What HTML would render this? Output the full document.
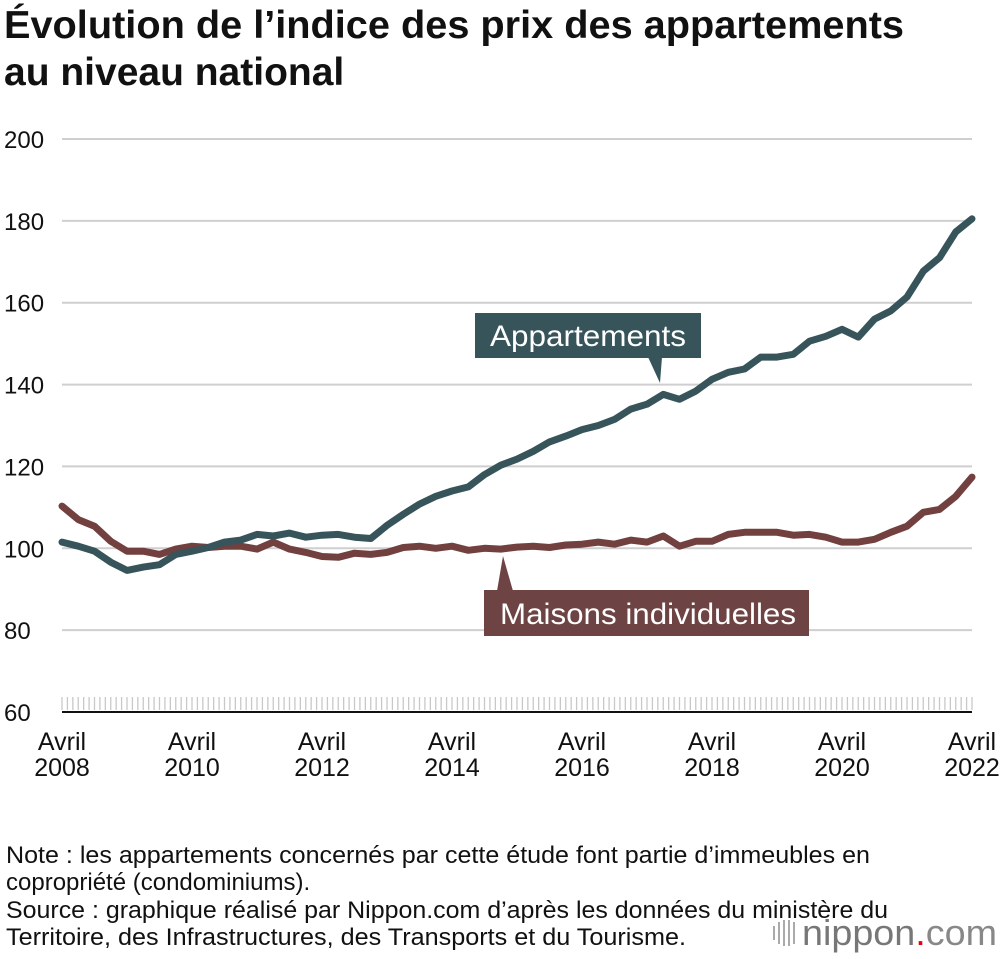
<!DOCTYPE html>
<html><head><meta charset="utf-8"><style>
body{margin:0;background:#fff;font-family:"Liberation Sans",Arial,sans-serif;}
svg text{font-family:"Liberation Sans",Arial,sans-serif;}
</style></head><body>
<svg width="1000" height="954" viewBox="0 0 1000 954">
<text x="4" y="38" font-size="39" font-weight="bold" fill="#111" textLength="900" lengthAdjust="spacingAndGlyphs">Évolution de l’indice des prix des appartements</text>
<text x="4" y="85" font-size="39" font-weight="bold" fill="#111">au niveau national</text>
<g id="grid"></g>
<g id="ticks"></g>
<g id="series"></g>
<g>
<rect x="475" y="313" width="226" height="45" fill="#36545a"/>
<polygon points="648,357 662,357 660,383" fill="#36545a"/>
<text x="588" y="346" font-size="30" fill="#fff" text-anchor="middle" textLength="196" lengthAdjust="spacingAndGlyphs">Appartements</text>
</g>
<g>
<rect x="484" y="590" width="325" height="46" fill="#6e4343"/>
<polygon points="497,591 513,591 503,556" fill="#6e4343"/>
<text x="648" y="624" font-size="30" fill="#fff" text-anchor="middle" textLength="296" lengthAdjust="spacingAndGlyphs">Maisons individuelles</text>
</g>
<g font-size="24" fill="#111">
<text x="6" y="863" textLength="864" lengthAdjust="spacingAndGlyphs">Note : les appartements concernés par cette étude font partie d’immeubles en</text>
<text x="6" y="890">copropriété (condominiums).</text>
<text x="6" y="918" textLength="882" lengthAdjust="spacingAndGlyphs">Source : graphique réalisé par Nippon.com d’après les données du ministère du</text>
<text x="6" y="945" textLength="680" lengthAdjust="spacingAndGlyphs">Territoire, des Infrastructures, des Transports et du Tourisme.</text>
</g>
<g>
<g stroke="#aaa" stroke-width="2"><line x1="774" y1="926" x2="774" y2="940"/><line x1="779" y1="922" x2="779" y2="944"/><line x1="784" y1="920" x2="784" y2="946"/><line x1="789" y1="920" x2="789" y2="946"/><line x1="794" y1="922" x2="794" y2="944"/></g>
<text x="802" y="945" font-size="36" fill="#777" textLength="195" lengthAdjust="spacingAndGlyphs">nippon<tspan fill="#e60012">.</tspan><tspan fill="#888">com</tspan></text>
</g>
</svg>
<script>
const yTicks=[60,80,100,120,140,160,180,200];
const xYears=[2008,2010,2012,2014,2016,2018,2020,2022];
const apartments=[101.5,100.5,99.3,96.6,94.6,95.4,96,98.5,99.3,100.2,101.5,102,103.4,103,103.7,102.7,103.2,103.4,102.7,102.4,105.6,108.3,110.8,112.7,114,115,118,120.3,121.8,123.7,126,127.4,129,130,131.5,134,135.2,137.6,136.4,138.4,141.3,143,143.8,146.7,146.7,147.4,150.6,151.8,153.5,151.6,156,158,161.4,167.7,171,177.3,180.5];
const houses=[110.3,107,105.4,101.7,99.3,99.3,98.5,99.8,100.5,100.2,100.5,100.5,99.8,101.5,99.8,99,98,97.8,98.8,98.5,99,100.2,100.5,100,100.5,99.5,100,99.8,100.3,100.5,100.2,100.8,101,101.5,101,102,101.5,103,100.5,101.7,101.7,103.4,103.9,103.9,103.9,103.2,103.4,102.7,101.5,101.5,102.2,103.9,105.4,108.8,109.5,112.7,117.4];
const stepMonths=3;
const NS="http://www.w3.org/2000/svg";
const X0=62,X1=972,Y0=712,Y1=139;
function xScale(m){return X0+(X1-X0)*m/168;}
function yScale(v){return Y0-(Y0-Y1)*(v-60)/140;}
function mk(tag,attrs,parent){const e=document.createElementNS(NS,tag);for(const k in attrs)e.setAttribute(k,attrs[k]);parent.appendChild(e);return e;}
const grid=document.getElementById('grid');
yTicks.forEach(v=>{
 if(v>60){const l=mk('line',{x1:X0,x2:X1,y1:yScale(v),y2:yScale(v),stroke:'#cfcfcf','stroke-width':2},grid);
 
 }
 const t=mk('text',{x:4,y:yScale(v)+9,'font-size':24,fill:'#111'},grid);t.textContent=v;
 
 
});
const ticks=document.getElementById('ticks');
for(let m=0;m<=168;m++){const x=xScale(m);mk('line',{x1:x,x2:x,y1:697,y2:710,stroke:'#c8c8c8','stroke-width':1.3},ticks);}
const ax=mk('line',{x1:X0,x2:X1,y1:Y0,y2:Y0,stroke:'#111','stroke-width':2},ticks);


xYears.forEach(y=>{
 const x=xScale((y-2008)*12);
 const g=mk('g',{},ticks);
 
 
 const a=mk('text',{x:x,y:750,'font-size':25,fill:'#111','text-anchor':'middle'},g);a.textContent='Avril';
 const b=mk('text',{x:x,y:776,'font-size':25,fill:'#111','text-anchor':'middle'},g);b.textContent=y;
});
const ser=document.getElementById('series');
function draw(arr,color,name){
 const d=arr.map((v,i)=>(i?'L':'M')+xScale(i*stepMonths).toFixed(1)+','+yScale(v).toFixed(1)).join(' ');
 const p=mk('path',{d:d,fill:'none',stroke:color,'stroke-width':7,'stroke-linejoin':'round','stroke-linecap':'round'},ser);
 
 
}
draw(houses,'#72403f','houses-line');
draw(apartments,'#36545a','apartments-line');
</script>
</body></html>
